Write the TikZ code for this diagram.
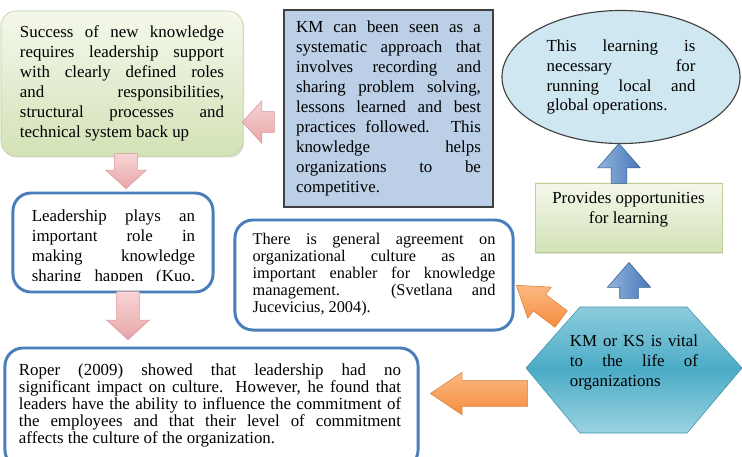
\documentclass[tikz,border=0pt]{standalone}
\usepackage{fontspec}
\setmainfont{Liberation Serif}
\usetikzlibrary{shapes.arrows,shapes.geometric,shadows}

\definecolor{greentop}{HTML}{F4F8EC}
\definecolor{greenbot}{HTML}{D3E2B6}
\definecolor{greenline}{HTML}{BBCF95}
\definecolor{pinktop}{HTML}{F7D4D4}
\definecolor{pinkbot}{HTML}{E8A6A9}
\definecolor{pinkline}{HTML}{D9959A}
\definecolor{boxblue}{HTML}{4A7EBB}
\definecolor{kmfill}{HTML}{BBCFE6}
\definecolor{kmline}{HTML}{404040}
\definecolor{ellfill}{HTML}{CFE7F1}
\definecolor{bluedark}{HTML}{4678B8}
\definecolor{bluelight}{HTML}{93B4DD}
\definecolor{orangemain}{HTML}{F58D3E}
\definecolor{orangelight}{HTML}{FBB983}
\definecolor{hextop}{HTML}{8CCBDD}
\definecolor{hexmid}{HTML}{4BACC6}
\definecolor{hexbot}{HTML}{9BD3E2}

\newcommand{\bodyfont}{\fontsize{12}{14.2}\selectfont\tolerance=9999\hyphenpenalty=10000 }
\newcommand{\tightfont}{\fontsize{12}{12.1}\selectfont\tolerance=9999\hyphenpenalty=10000 }
\newcommand{\culturefont}{\fontsize{11.6}{12.1}\selectfont\tolerance=9999\hyphenpenalty=10000 }

\begin{document}
\begin{tikzpicture}[
    x=0.025cm, y=-0.025cm,
    text=black,
    txt/.style={font=\bodyfont, align=justify, inner sep=0pt},
    greenbox/.style={rectangle, draw=greenline, top color=greentop, bottom color=greenbot,
        drop shadow={opacity=0.25, shadow xshift=0.8pt, shadow yshift=-1.2pt}},
    bluebox/.style={rectangle, rounded corners=0.45cm, draw=boxblue, line width=2.1pt, fill=white},
    blockarrow/.style={single arrow, inner xsep=0pt, minimum width=0pt, single arrow head indent=0pt},
    pinkarrow/.style={blockarrow, draw=pinkline, top color=pinktop, bottom color=pinkbot, single arrow tip angle=95},
    bluearrow/.style={blockarrow, draw=bluedark!80!black, left color=bluelight, right color=bluedark, single arrow tip angle=82},
    orangearrow/.style={blockarrow, draw=orangemain!90!black, top color=orangelight, bottom color=orangemain, single arrow tip angle=68},
]
\useasboundingbox (0,0) rectangle (742,456);

% ==================== TOP ROW ====================
% Green box, top left
\node[greenbox, txt, rounded corners=0.375cm, text width=5.1cm, minimum width=6.05cm, minimum height=3.625cm]
    (success) at (122,83.5) {Success of new knowledge\linebreak requires leadership support\linebreak
    with clearly defined roles\linebreak and responsibilities,\linebreak structural processes and\linebreak
    technical system back up};

% KM box
\node[txt, draw=kmline, line width=0.8pt, fill=kmfill, text width=4.62cm, minimum width=5.225cm, minimum height=4.925cm]
    (km) at (388.5,108.5) {KM can been seen as a\linebreak systematic approach that\linebreak
    involves recording and\linebreak sharing problem solving,\linebreak lessons learned and best\linebreak
    practices followed. This\linebreak knowledge helps\linebreak organizations to be\linebreak competitive.};

% Ellipse, top right
\node[ellipse, txt, draw=kmline, line width=0.8pt, fill=ellfill, text width=3.72cm, minimum width=5.95cm, minimum height=3.325cm]
    (learning) at (621,77) {This learning is\linebreak necessary for\linebreak running local and\linebreak global operations.};

% ==================== MIDDLE ROW ====================
% Leadership box (text cut off at the bottom)
\node[bluebox, minimum width=5cm, minimum height=2.475cm] (leader) at (113,242.5) {};
\begin{scope}
    \clip (13,193) rectangle (213,280);
    \node[txt, text width=4.08cm, anchor=north] (leadertext) at (113.5,209.5)
        {Leadership plays an\linebreak important role in\linebreak making knowledge\linebreak
        sharing\hfill happen\hfill (Kuo,};
\end{scope}

% Culture box
\node[bluebox, txt, font=\culturefont, text width=6.07cm, minimum width=6.95cm, minimum height=2.75cm]
    (culture) at (374,275) {There is general agreement on\linebreak organizational culture as an\linebreak
    important enabler for knowledge\linebreak management. (Svetlana and\linebreak Jucevicius, 2004).};

% Green box, right
\node[greenbox, minimum width=4.675cm, minimum height=1.725cm] (provides) at (628.5,217.5) {};
\node[font=\bodyfont, align=center, inner sep=0pt] (providestext) at (628.5,209.5) {Provides opportunities\\ for learning};

% ==================== BOTTOM ROW ====================
% Roper box (runs off the page)
\node[bluebox, minimum width=10.325cm, minimum height=3cm] (roper) at (211.5,408) {};
\begin{scope}
    \clip (5,348) rectangle (418,446);
    \node[txt, font=\tightfont, text width=9.55cm, anchor=north] (ropertext) at (210,363.5)
        {Roper (2009) showed that leadership had no\linebreak significant impact on culture. However, he found that\linebreak
        leaders have the ability to influence the commitment of\linebreak the employees and that their level of commitment\linebreak
        affects the culture of the organization.};
\end{scope}

% Hexagon
\draw[draw=hexmid!85!black, line width=0.4pt, top color=hextop, bottom color=hexbot, middle color=hexmid]
    (526,368) -- (580,307) -- (687,307) -- (742,368) -- (687,433) -- (580,433) -- cycle;
\node[txt, text width=3.2cm] (vital) at (634,362) {KM or KS is vital\linebreak to the life of\linebreak organizations};

% ==================== BLOCK ARROWS ====================
\node[pinkarrow, rotate=180, anchor=tip, minimum height=0.8cm, inner ysep=0.25cm, single arrow head extend=0.275cm]
    (toSuccess) at (242,122) {};
\node[pinkarrow, rotate=-90, anchor=tip, minimum height=0.875cm, inner ysep=0.275cm, single arrow head extend=0.225cm]
    (toLeader) at (126,189) {};
\node[pinkarrow, rotate=-90, anchor=tip, minimum height=1.2cm, inner ysep=0.275cm, single arrow head extend=0.25cm]
    (toRoper) at (128,340) {};
\node[bluearrow, rotate=90, anchor=tip, minimum height=1cm, inner ysep=0.19cm, single arrow head extend=0.335cm]
    (toLearning) at (619,143) {};
\node[bluearrow, rotate=90, anchor=tip, minimum height=0.9cm, inner ysep=0.225cm, single arrow head extend=0.31cm]
    (toProvides) at (629,262) {};
\node[orangearrow, rotate=143, anchor=tip, minimum height=1.4cm, inner ysep=0.25cm, single arrow head extend=0.23cm]
    (toCulture) at (516,285) {};
\node[orangearrow, rotate=180, anchor=tip, minimum height=2.425cm, inner ysep=0.3125cm, single arrow head extend=0.2125cm]
    (toRoperL) at (430,393.5) {};

\end{tikzpicture}
\end{document}
